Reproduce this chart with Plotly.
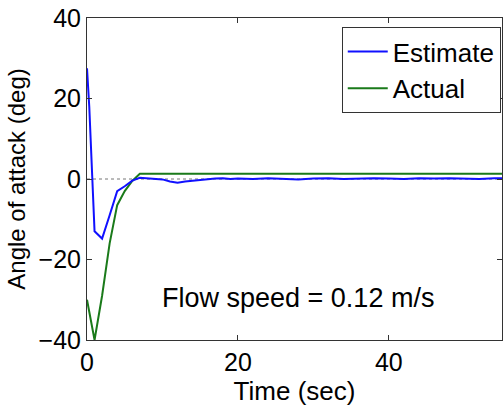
import plotly.graph_objects as go

# Estimate (blue)
t_est = [0, 0.3, 1, 2, 3, 4, 5, 6, 7, 8, 9, 10, 11, 12, 13, 14, 15, 16, 17, 18, 19, 20,
         22, 24, 26, 28, 30, 32, 34, 36, 38, 40, 42, 44, 46, 48, 50, 52, 54, 55]
v_est = [27.5, 18, -13, -14.8, -9, -3, -1.8, -0.4, 0.3, 0.2, 0.1, -0.1, -0.6, -0.9, -0.6, -0.4, -0.3, -0.1, 0.1, 0.2, 0.0, 0.1,
         0.0, 0.2, 0.1, -0.1, 0.1, 0.2, 0.0, 0.1, 0.2, 0.1, 0.0, 0.2, 0.1, 0.2, 0.1, 0.0, 0.2, 0.2]

# Actual (green)
t_act = [0, 1, 2, 3, 4, 5, 6, 7, 55]
v_act = [-30, -40, -29, -16, -6.5, -3, -0.5, 1.3, 1.3]

x_ticks = [0, 20, 40]
y_ticks = [-40, -20, 0, 20, 40]

FONT = "Liberation Sans, Arial, sans-serif"

fig = go.Figure()
fig.add_trace(go.Scatter(x=[0, 55], y=[0, 0], mode="lines",
                         line=dict(color="#777777", width=1, dash="dot"),
                         showlegend=False, hoverinfo="skip"))
fig.add_trace(go.Scatter(x=t_act, y=v_act, mode="lines", name="Actual",
                         line=dict(color="#1a7a1a", width=2)))
fig.add_trace(go.Scatter(x=t_est, y=v_est, mode="lines", name="Estimate",
                         line=dict(color="#1010ff", width=2)))

fig.update_layout(
    width=504, height=407,
    margin=dict(l=87, r=2, t=18, b=67),
    paper_bgcolor="white", plot_bgcolor="white",
    font=dict(family=FONT, size=25, color="black"),
    legend=dict(x=0.997, y=0.972, xanchor="right", yanchor="top",
                bgcolor="white", bordercolor="#333333", borderwidth=1,
                traceorder="reversed", font=dict(size=26),
                itemwidth=40, tracegroupgap=0),
    annotations=[dict(x=28, y=-29.6, xref="x", yref="y", text="Flow speed = 0.12 m/s",
                      showarrow=False, font=dict(size=27))],
)
fig.update_xaxes(range=[0, 55], tickvals=x_ticks, ticks="inside", ticklen=5,
                 showgrid=False, zeroline=False, showline=True, linecolor="#333333",
                 linewidth=1, mirror="ticks", tickcolor="#333333",
                 title=dict(text="Time (sec)", standoff=0, font=dict(size=26)),
                 tickfont=dict(size=25))
fig.update_yaxes(range=[-40, 40], tickvals=y_ticks, ticks="inside", ticklen=5,
                 showgrid=False, zeroline=False, showline=True, linecolor="#333333",
                 linewidth=1, mirror="ticks", tickcolor="#333333",
                 title=dict(text="Angle of attack (deg)", standoff=6, font=dict(size=24)),
                 tickfont=dict(size=25))

fig.write_html("out.html")
